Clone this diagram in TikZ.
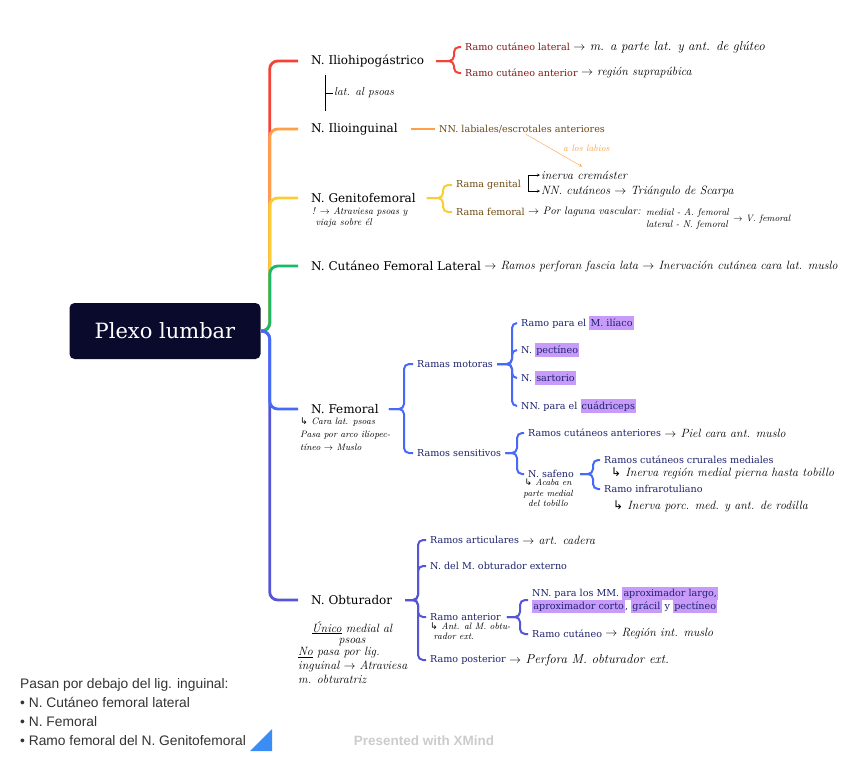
\documentclass[tikz,border=0pt]{standalone}
\usepackage{fontspec}
\usepackage{xcolor}
\usepackage{tikz}
\usetikzlibrary{positioning,arrows}
\newfontfamily\topicfont{DejaVu Serif}
\newfontfamily\listfont{Liberation Sans}
\newfontfamily\symfont{DejaVu Sans}
\definecolor{rootbg}{RGB}{10,10,45}
\definecolor{cRed}{RGB}{244,67,54}
\definecolor{cOrange}{RGB}{255,160,70}
\definecolor{cYellow}{RGB}{250,205,50}
\definecolor{cGreen}{RGB}{25,185,110}
\definecolor{cBlue}{RGB}{70,105,250}
\definecolor{cIndigo}{RGB}{85,85,215}
\definecolor{subred}{RGB}{130,25,25}
\definecolor{subbrown}{RGB}{110,75,20}
\definecolor{subnavy}{RGB}{30,35,110}
\definecolor{hlpurple}{RGB}{200,155,250}
\definecolor{cTri}{RGB}{60,140,245}
\newcommand{\hl}[1]{{\setlength{\fboxsep}{1.2pt}\colorbox{hlpurple}{\vphantom{Ápg}#1}}}
\newcommand{\hook}{{\symfont ↳}}
\tikzstyle{root} = [rectangle, rounded corners=5pt, minimum width=191pt, minimum height=56pt, fill=rootbg, text=white, font=\topicfont\fontsize{21}{24}\selectfont]
\tikzstyle{topic} = [anchor=west, inner sep=1pt, font=\topicfont\fontsize{12}{14}\selectfont, text=black]
\tikzstyle{sub} = [anchor=west, inner sep=1pt, font=\topicfont\fontsize{9.6}{12.5}\selectfont, align=left]
\tikzstyle{hand} = [anchor=west, inner sep=1pt, align=left, font=\fontsize{12}{13}\selectfont\itshape]
\tikzstyle{bighand} = [anchor=west, inner sep=1pt, align=left, font=\fontsize{13}{14}\selectfont\itshape]
\tikzstyle{smallhand} = [anchor=west, inner sep=1pt, align=left, font=\fontsize{9.3}{11}\selectfont\itshape]
\tikzstyle{branch} = [line width=2.8pt, rounded corners=8pt, shorten >=12pt]
\tikzstyle{twig} = [line width=2pt, rounded corners=5pt, shorten >=3pt]
\tikzstyle{arrow} = [thin,->,>=stealth]

\begin{document}
\begin{tikzpicture}[x=1pt, y=-1pt]
\useasboundingbox (0,0) rectangle (848,761);
\fill[white] (0,0) rectangle (848,761);

\node(root) [root] at (165,331) {Plexo lumbar};
\node(iliohipo) [topic] at (310,61) {N. Iliohipogástrico};
\node(ilioing) [topic] at (310,129) {N. Ilioinguinal};
\node(genito) [topic] at (310,198) {N. Genitofemoral};
\node(cutfem) [topic] at (310,266) {N. Cutáneo Femoral Lateral};
\node(femoral) [topic] at (310,409) {N. Femoral};
\node(obtur) [topic] at (310,600) {N. Obturador};

\node(rcl) [sub, text=subred] at (464,47) {Ramo cutáneo lateral};
\node(rca) [sub, text=subred] at (464,73) {Ramo cutáneo anterior};
\node(labios) [sub, text=subbrown] at (438,129) {NN. labiales/escrotales anteriores};
\node(rgen) [sub, text=subbrown] at (455,185) {Rama genital};
\node(rfem) [sub, text=subbrown] at (455,212) {Rama femoral};
\node(motor) [sub, text=subnavy] at (416,364) {Ramas motoras};
\node(sensit) [sub, text=subnavy] at (416,453) {Ramos sensitivos};
\node(iliaco) [sub, text=subnavy] at (520,323) {Ramo para el \hl{M. ilíaco}};
\node(pectineo) [sub, text=subnavy] at (520,350) {N. \hl{pectíneo}};
\node(sartorio) [sub, text=subnavy] at (520,378) {N. \hl{sartorio}};
\node(cuadri) [sub, text=subnavy] at (520,406) {NN. para el \hl{cuádriceps}};
\node(cutant) [sub, text=subnavy] at (527,433) {Ramos cutáneos anteriores};
\node(safeno) [sub, text=subnavy] at (527,474) {N. safeno};
\node(crural) [sub, text=subnavy] at (603,460) {Ramos cutáneos crurales mediales};
\node(infrarot) [sub, text=subnavy] at (603,489) {Ramo infrarotuliano};
\node(artic) [sub, text=subnavy] at (429,540) {Ramos articulares};
\node(obtext) [sub, text=subnavy] at (429,566) {N. del M. obturador externo};
\node(ranter) [sub, text=subnavy] at (429,617) {Ramo anterior};
\node(rpost) [sub, text=subnavy] at (429,660) {Ramo posterior};
\node(aproxim) [sub, text=subnavy] at (531,600) {NN. para los MM. \hl{aproximador largo,}\\[-1.5pt]\hl{aproximador corto}, \hl{grácil} y \hl{pectíneo}};
\node(rcut) [sub, text=subnavy] at (531,634) {Ramo cutáneo};

\node(gluteo) [bighand, right=1pt of rcl] {$\to$ m. a parte lat. y ant. de glúteo};
\node(suprap) [hand, right=1pt of rca] {$\to$ región suprapúbica};
\node(psoasnote) [hand, font=\fontsize{11.5}{13}\selectfont\itshape] at (333,93) {lat. al psoas};
\node(alabios) [smallhand, text=cOrange] at (562,148) {a los labios};
\node(cremaster) [hand] at (540,175) {inerva cremáster};
\node(scarpa) [hand] at (540,191) {NN. cutáneos $\to$ Triángulo de Scarpa};
\node(laguna) [hand, font=\fontsize{10.8}{12}\selectfont\itshape, right=1pt of rfem] {$\to$ Por laguna vascular:};
\node(medlat) [smallhand, font=\fontsize{9.7}{12}\selectfont\itshape] at (645,219) {medial - A. femoral\\lateral - N. femoral};
\node(vfem) [smallhand, right=2pt of medlat] {$\to$ V. femoral};
\node(atrav) [smallhand, anchor=north west, font=\fontsize{9.8}{11}\selectfont\itshape] at (311,206) {! $\to$ Atraviesa psoas y\\ \ viaja sobre él};
\node(perfora) [hand, right=1pt of cutfem] {$\to$ Ramos perforan fascia lata $\to$ Inervación cutánea cara lat. muslo};
\node(femnote) [smallhand, anchor=north west, font=\fontsize{9.3}{13}\selectfont\itshape] at (299,417) {\hook\ Cara lat. psoas\\Pasa por arco iliopec-\\tíneo $\to$ Muslo};
\node(pielant) [hand, right=1pt of cutant] {$\to$ Piel cara ant. muslo};
\node(safnote) [smallhand, anchor=north, align=center, font=\fontsize{9}{10.5}\selectfont\itshape] at (548,478) {\hook\ Acaba en\\parte medial\\del tobillo};
\node(crunote) [hand] at (610,473) {\hook\ Inerva región medial pierna hasta tobillo};
\node(infranote) [hand] at (612,506) {\hook\ Inerva porc. med. y ant. de rodilla};
\node(cadera) [hand, right=1pt of artic] {$\to$ art. cadera};
\node(antnote) [smallhand, anchor=north west, font=\fontsize{9.3}{10}\selectfont\itshape] at (429,622) {\hook\ Ant. al M. obtu-\\ \ rador ext.};
\node(regint) [hand, right=1pt of rcut] {$\to$ Región int. muslo};
\node(perfobt) [bighand, right=1pt of rpost] {$\to$ Perfora M. obturador ext.};
\node(obtnote) [hand, anchor=north, align=center, font=\fontsize{12}{11}\selectfont\itshape] at (352,620) {\underline{Único} medial al\\psoas};
\node(ligote) [hand, anchor=north west, font=\fontsize{12}{14}\selectfont\itshape] at (297,646) {\underline{No} pasa por lig.\\inguinal $\to$ Atraviesa\\m. obturatriz};

\node(leyenda) [anchor=north west, align=left, inner sep=0pt, text=black!80, font=\listfont\fontsize{13.8}{19}\selectfont] at (20,678.5) {Pasan por debajo del lig. inguinal:\\• N. Cutáneo femoral lateral\\• N. Femoral\\• Ramo femoral del N. Genitofemoral};
\node(xmind) [font=\listfont\bfseries\fontsize{13.5}{15}\selectfont, text=black!20] at (424,741) {Presented with XMind};
\fill[cTri] (250,751) -- (272,751) -- (272,729) -- cycle;

\draw [branch, cRed] (root.east) -- ++(9,0) |- (iliohipo.west);
\draw [branch, cOrange] (root.east) -- ++(9,0) |- (ilioing.west);
\draw [branch, cYellow] (root.east) -- ++(9,0) |- (genito.west);
\draw [branch, cGreen] (root.east) -- ++(9,0) |- (cutfem.west);
\draw [branch, cIndigo] (root.east) -- ++(9,0) |- (obtur.west);
\draw [branch, cBlue] (root.east) -- ++(9,0) |- (femoral.west);

\coordinate (iliohipoJ) at ([xshift=11pt]iliohipo.east);
\draw [twig, cRed] (iliohipoJ) -| ([xshift=-10pt]rcl.west) -- (rcl.west);
\draw [twig, cRed] (iliohipoJ) -| ([xshift=-10pt]rca.west) -- (rca.west);
\draw [twig, cOrange] ([xshift=12pt]ilioing.east) -- (labios.west);
\coordinate (genitoJ) at ([xshift=10pt]genito.east);
\draw [twig, cYellow] (genitoJ) -| ([xshift=-12pt]rgen.west) -- (rgen.west);
\draw [twig, cYellow] (genitoJ) -| ([xshift=-12pt]rfem.west) -- (rfem.west);

\coordinate (femoralJ) at ([xshift=9pt]femoral.east);
\draw [twig, cBlue] (femoralJ) -| ([xshift=-12pt]motor.west) -- (motor.west);
\draw [twig, cBlue] (femoralJ) -| ([xshift=-12pt]sensit.west) -- (sensit.west);
\coordinate (motorJ) at ([xshift=3pt]motor.east);
\foreach \m in {iliaco,pectineo,sartorio,cuadri}
  \draw [twig, cBlue] (motorJ) -| ([xshift=-8pt]\m.west) -- (\m.west);
\coordinate (sensitJ) at ([xshift=3pt]sensit.east);
\foreach \m in {cutant,safeno}
  \draw [twig, cBlue] (sensitJ) -| ([xshift=-10pt]\m.west) -- (\m.west);
\coordinate (safenoJ) at ([xshift=5pt]safeno.east);
\foreach \m in {crural,infrarot}
  \draw [twig, cBlue] (safenoJ) -| ([xshift=-10pt]\m.west) -- (\m.west);

\coordinate (obturJ) at ([xshift=12pt]obtur.east);
\foreach \m in {artic,obtext,ranter,rpost}
  \draw [twig, cIndigo] (obturJ) -| ([xshift=-11pt]\m.west) -- (\m.west);
\coordinate (ranterJ) at ([xshift=5pt]ranter.east);
\foreach \m in {aproxim,rcut}
  \draw [twig, cIndigo] (ranterJ) -| ([xshift=-11pt]\m.west) -- (\m.west);

\draw [thin] ([xshift=-8pt,yshift=18pt]psoasnote.west) -- ++(0,36);
\draw [thin] ([xshift=-8pt]psoasnote.west) -- (psoasnote.west);
\draw [arrow] ([xshift=6pt]rgen.east) |- (cremaster.west);
\draw [arrow] ([xshift=6pt]rgen.east) |- (scarpa.west);
\draw [arrow, cOrange] ([xshift=88pt]labios.south west) -- ([xshift=42pt,yshift=3pt]cremaster.north west);

\end{tikzpicture}
\end{document}
